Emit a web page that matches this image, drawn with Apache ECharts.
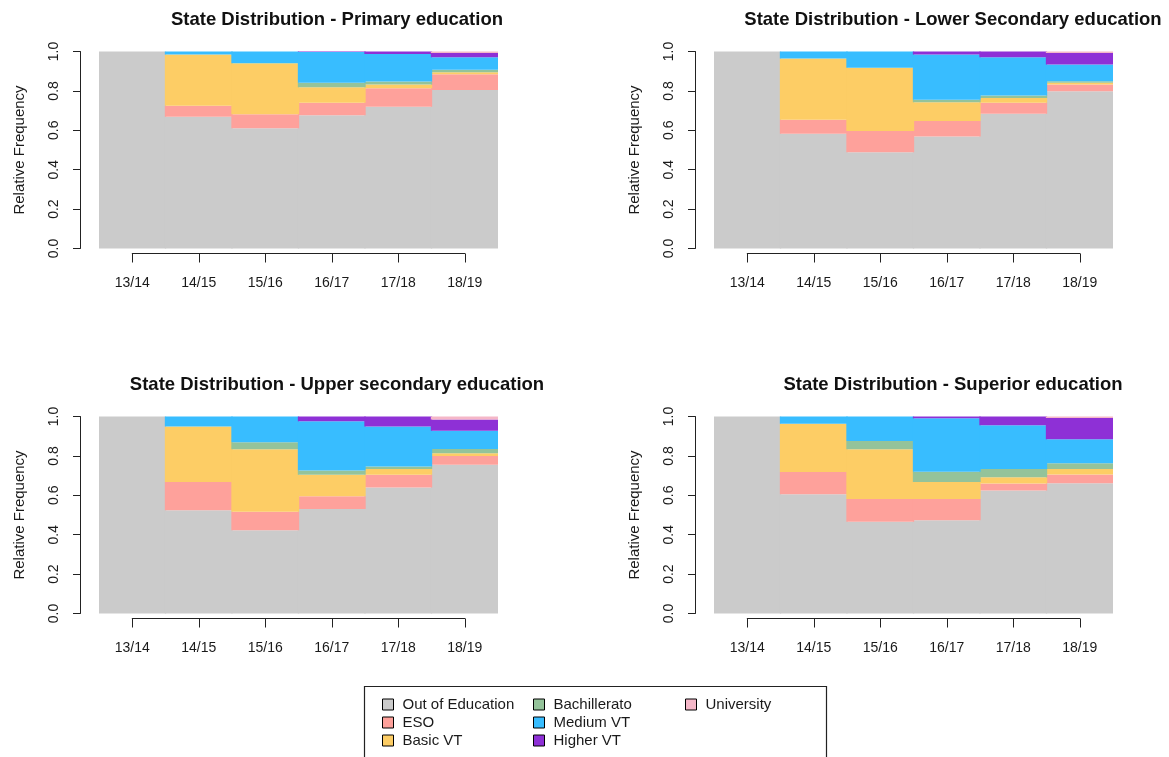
<!DOCTYPE html>
<html>
<head>
<meta charset="utf-8">
<script src="https://cdn.jsdelivr.net/npm/echarts@6/dist/echarts.min.js"></script>
<style>html,body{margin:0;padding:0;background:#fff;}#c{width:1169px;height:757px;}</style>
</head>
<body>
<div id="c"></div>
<script>
const categories = ['13/14','14/15','15/16','16/17','17/18','18/19'];
const states = ['Out of Education','ESO','Basic VT','Bachillerato','Medium VT','Higher VT','University'];
const stateColors = ['#cbcbcb','#fea19b','#fdcd65','#94c39a','#38bdff','#8e30d6','#f5b7c8'];
const yTicks = [0, 1, 0.2];

const panelTitles = [
  'State Distribution - Primary education',
  'State Distribution - Lower Secondary education',
  'State Distribution - Upper secondary education',
  'State Distribution - Superior education'
];

// Primary education
const primaryOut   = [1, 0.669, 0.611, 0.676, 0.720, 0.805];
const primaryESO   = [0, 0.056, 0.071, 0.064, 0.093, 0.080];
const primaryBasic = [0, 0.260, 0.257, 0.079, 0.020, 0.010];
const primaryBach  = [0, 0, 0.003, 0.022, 0.015, 0.012];
const primaryMed   = [0, 0.015, 0.058, 0.157, 0.139, 0.064];
const primaryHigh  = [0, 0, 0, 0.002, 0.013, 0.022];
const primaryUniv  = [0, 0, 0, 0, 0, 0.007];

// Lower secondary education
const lowerOut   = [1, 0.583, 0.488, 0.568, 0.684, 0.798];
const lowerESO   = [0, 0.071, 0.108, 0.079, 0.056, 0.034];
const lowerBasic = [0, 0.311, 0.321, 0.095, 0.024, 0.010];
const lowerBach  = [0, 0, 0, 0.013, 0.013, 0.007];
const lowerMed   = [0, 0.035, 0.083, 0.230, 0.194, 0.085];
const lowerHigh  = [0, 0, 0, 0.015, 0.029, 0.059];
const lowerUniv  = [0, 0, 0, 0, 0, 0.007];

// Upper secondary education
const upperOut   = [1, 0.524, 0.422, 0.530, 0.640, 0.755];
const upperESO   = [0, 0.143, 0.095, 0.065, 0.064, 0.044];
const upperBasic = [0, 0.282, 0.317, 0.109, 0.029, 0.014];
const upperBach  = [0, 0, 0.035, 0.022, 0.013, 0.022];
const upperMed   = [0, 0.051, 0.131, 0.250, 0.203, 0.093];
const upperHigh  = [0, 0, 0, 0.024, 0.051, 0.057];
const upperUniv  = [0, 0, 0, 0, 0, 0.015];

// Superior education
const superiorOut   = [1, 0.605, 0.466, 0.473, 0.625, 0.661];
const superiorESO   = [0, 0.113, 0.115, 0.108, 0.035, 0.044];
const superiorBasic = [0, 0.245, 0.253, 0.086, 0.031, 0.029];
const superiorBach  = [0, 0, 0.042, 0.052, 0.042, 0.029];
const superiorMed   = [0, 0.037, 0.124, 0.272, 0.223, 0.122];
const superiorHigh  = [0, 0, 0, 0.009, 0.044, 0.107];
const superiorUniv  = [0, 0, 0, 0, 0, 0.008];

const panelData = [
  [primaryOut, primaryESO, primaryBasic, primaryBach, primaryMed, primaryHigh, primaryUniv],
  [lowerOut, lowerESO, lowerBasic, lowerBach, lowerMed, lowerHigh, lowerUniv],
  [upperOut, upperESO, upperBasic, upperBach, upperMed, upperHigh, upperUniv],
  [superiorOut, superiorESO, superiorBasic, superiorBach, superiorMed, superiorHigh, superiorUniv]
];

// layout
const FONT = 'Liberation Sans, Arial, sans-serif';
const TXT = '#1a1a1a';
const panelLeft = [99, 714, 99, 714];
const panelTop = [51.5, 51.5, 416.5, 416.5];
const plotW = 399, plotH = 197;
const titleX = [332, 948, 332, 948];
const titleY = [5, 5, 370, 370];

const grids = [], xAxes = [], yAxes = [], series = [], titles = [];
for (let p = 0; p < 4; p++) {
  grids.push({left: panelLeft[p], top: panelTop[p], width: plotW, height: plotH, containLabel: false});
  const gi = grids.length - 1;
  xAxes.push({type: 'category', gridIndex: gi, data: categories, show: false, boundaryGap: true});
  yAxes.push({
    type: 'value', gridIndex: gi, min: yTicks[0], max: yTicks[1], interval: yTicks[2], offset: 19,
    name: 'Relative Frequency', nameLocation: 'middle', nameGap: 53,
    nameTextStyle: {fontFamily: FONT, fontSize: 15, color: TXT},
    axisLine: {show: true, lineStyle: {color: '#222', width: 1}},
    axisTick: {show: true, length: 7, lineStyle: {color: '#222', width: 1}},
    axisLabel: {rotate: 90, margin: 19, fontFamily: FONT, fontSize: 14, color: TXT,
      formatter: v => v.toFixed(1)},
    splitLine: {show: false}
  });
  const xi = xAxes.length - 1, yi = yAxes.length - 1;
  panelData[p].forEach((vals, s) => {
    series.push({
      type: 'bar', name: states[s], xAxisIndex: xi, yAxisIndex: yi, stack: 'panel' + p,
      data: vals, barCategoryGap: '0%', barWidth: '102%',
      itemStyle: {color: stateColors[s]},
      silent: true, animation: false
    });
  });
  const step = plotW / categories.length;
  grids.push({left: panelLeft[p] + step / 2, top: panelTop[p] + plotH + 4, width: step * (categories.length - 1), height: 1});
  const gj = grids.length - 1;
  xAxes.push({
    type: 'category', gridIndex: gj, data: categories, boundaryGap: false, position: 'bottom',
    axisLine: {show: true, lineStyle: {color: '#222', width: 1}},
    axisTick: {show: true, length: 9, alignWithLabel: true, lineStyle: {color: '#222', width: 1}},
    axisLabel: {margin: 23, fontFamily: FONT, fontSize: 14, color: TXT, interval: 0}
  });
  yAxes.push({type: 'value', gridIndex: gj, show: false});
  titles.push({
    text: panelTitles[p], left: titleX[p], top: titleY[p], textAlign: 'center',
    textStyle: {fontFamily: FONT, fontSize: 18.5, fontWeight: 'bold', color: '#111'}
  });
}

const legendCols = [[0, 1, 2], [3, 4, 5], [6]];
const legendLeft = [377, 528, 680];
const legends = legendCols.map((idx, i) => ({
  orient: 'vertical', left: legendLeft[i], top: 692, itemGap: 3, itemWidth: 11, itemHeight: 11,
  icon: 'rect', selectedMode: false,
  itemStyle: {borderColor: '#000', borderWidth: 1},
  textStyle: {fontFamily: FONT, fontSize: 15, color: TXT, padding: [0, 0, 0, 4]},
  data: idx.map(k => ({name: states[k], itemStyle: {color: stateColors[k], borderColor: '#000', borderWidth: 1}}))
}));

const chart = echarts.init(document.getElementById('c'), null, {renderer: 'canvas'});
chart.setOption({
  animation: false,
  backgroundColor: '#fff',
  title: titles,
  grid: grids,
  xAxis: xAxes,
  yAxis: yAxes,
  series: series,
  legend: legends,
  graphic: [{
    type: 'rect', left: 362, top: 684, shape: {width: 462, height: 80},
    style: {fill: 'none', stroke: '#222', lineWidth: 1.2}, silent: true
  }]
});
</script>
</body>
</html>
